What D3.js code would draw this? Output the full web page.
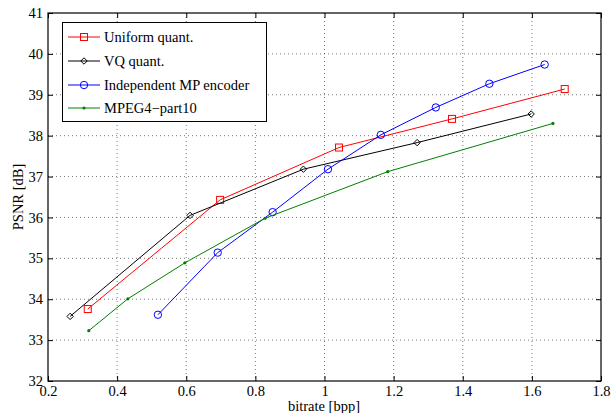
<!DOCTYPE html>
<html><head><meta charset="utf-8">
<script src="https://cdn.jsdelivr.net/npm/d3@7/dist/d3.min.js"></script>
<style>body{margin:0;background:#fff}svg{display:block}text{font-family:"Liberation Serif","Times New Roman",serif}</style>
</head><body>
<svg id="c" width="613" height="413"></svg>
<script>
const xTicks = [0.2,0.4,0.6,0.8,1,1.2,1.4,1.6,1.8];
const yTicks = [32,33,34,35,36,37,38,39,40,41];
const seriesNames = ["Uniform quant.","VQ quant.","Independent MP encoder","MPEG4\u2212part10"];
const uniformX = [0.315,0.698,1.042,1.369,1.695];
const uniformY = [33.76,36.43,37.71,38.41,39.14];
const vqX = [0.264,0.611,0.939,1.268,1.598];
const vqY = [33.58,36.05,37.18,37.83,38.53];
const mpX = [0.518,0.691,0.850,1.010,1.163,1.322,1.477,1.637];
const mpY = [33.62,35.14,36.13,37.18,38.02,38.69,39.27,39.74];
const mpegX = [0.318,0.431,0.596,0.828,1.183,1.661];
const mpegY = [33.23,34.01,34.89,35.98,37.12,38.30];

const svg = d3.select("#c");
const L=48,R=601,T=13,B=381;
const FS=14.5;
const x = d3.scaleLinear().domain([0.2,1.8]).range([L,R]);
const y = d3.scaleLinear().domain([32,41]).range([B,T]);

// grid
const g = svg.append("g");
g.selectAll(".gx").data(xTicks.slice(1,-1)).enter().append("line")
 .attr("x1",d=>x(d)).attr("x2",d=>x(d)).attr("y1",T).attr("y2",B)
 .attr("stroke","#555").attr("stroke-width",0.8).attr("stroke-dasharray","1,3");
g.selectAll(".gy").data(yTicks.slice(1,-1)).enter().append("line")
 .attr("y1",d=>y(d)).attr("y2",d=>y(d)).attr("x1",L).attr("x2",R)
 .attr("stroke","#555").attr("stroke-width",0.8).attr("stroke-dasharray","1,3");

// axes
const fmt = d=>String(d);
svg.append("g").attr("transform",`translate(0,${B})`)
 .call(d3.axisBottom(x).tickValues(xTicks).tickFormat(fmt).tickSizeInner(-5).tickSizeOuter(0).tickPadding(5))
 .call(a=>{a.select(".domain").remove();a.selectAll("text").attr("font-size",FS).attr("fill","#000");});
svg.append("g").attr("transform",`translate(0,${T})`)
 .call(d3.axisTop(x).tickValues(xTicks).tickFormat("").tickSizeInner(-5).tickSizeOuter(0))
 .call(a=>a.select(".domain").remove());
svg.append("g").attr("transform",`translate(${L},0)`)
 .call(d3.axisLeft(y).tickValues(yTicks).tickFormat(fmt).tickSizeInner(-5).tickSizeOuter(0).tickPadding(5))
 .call(a=>{a.select(".domain").remove();a.selectAll("text").attr("font-size",FS).attr("fill","#000");});
svg.append("g").attr("transform",`translate(${R},0)`)
 .call(d3.axisRight(y).tickValues(yTicks).tickFormat("").tickSizeInner(-5).tickSizeOuter(0))
 .call(a=>a.select(".domain").remove());
svg.selectAll(".tick line").attr("stroke","#000");
svg.append("rect").attr("x",L).attr("y",T).attr("width",R-L).attr("height",B-T)
 .attr("fill","none").attr("stroke","#000").attr("stroke-width",1.2);

// series
const series = [
 {name:seriesNames[0],xs:uniformX,ys:uniformY,color:"#ff0000",marker:"square"},
 {name:seriesNames[1],xs:vqX,ys:vqY,color:"#000000",marker:"diamond"},
 {name:seriesNames[2],xs:mpX,ys:mpY,color:"#0000ff",marker:"circle"},
 {name:seriesNames[3],xs:mpegX,ys:mpegY,color:"#008000",marker:"dot"}
];
const line = d3.line().x(d=>x(d[0])).y(d=>y(d[1]));
function drawMarker(sel,type,cx,cy,color){
 if(type==="square") sel.append("rect").attr("x",cx-3.5).attr("y",cy-3.5).attr("width",7).attr("height",7).attr("fill","none").attr("stroke",color).attr("stroke-width",1);
 else if(type==="diamond") sel.append("path").attr("d",`M${cx},${cy-3.2}L${cx+3.2},${cy}L${cx},${cy+3.2}L${cx-3.2},${cy}Z`).attr("fill","none").attr("stroke",color).attr("stroke-width",1);
 else if(type==="circle") sel.append("circle").attr("cx",cx).attr("cy",cy).attr("r",3.7).attr("fill","none").attr("stroke",color).attr("stroke-width",1);
 else sel.append("circle").attr("cx",cx).attr("cy",cy).attr("r",1.6).attr("fill",color);
}
series.forEach(s=>{
 const pts = s.xs.map((v,i)=>[v,s.ys[i]]);
 svg.append("path").datum(pts).attr("d",line).attr("fill","none").attr("stroke",s.color).attr("stroke-width",1);
 const mg = svg.append("g");
 pts.forEach(p=>drawMarker(mg,s.marker,x(p[0]),y(p[1]),s.color));
});

// legend
const lg = svg.append("g");
lg.append("rect").attr("x",62.5).attr("y",22.5).attr("width",204).attr("height",99).attr("fill","#fff").attr("stroke","#000").attr("stroke-width",1);
const ly=[37,61,85,108];
series.forEach((s,i)=>{
 lg.append("line").attr("x1",68).attr("x2",100).attr("y1",ly[i]).attr("y2",ly[i]).attr("stroke",s.color).attr("stroke-width",1);
 drawMarker(lg,s.marker,84,ly[i],s.color);
 lg.append("text").attr("x",104).attr("y",ly[i]+4.8).attr("font-size",FS).text(s.name);
});

// axis labels
svg.append("text").attr("x",324).attr("y",411).attr("text-anchor","middle").attr("font-size",FS).text("bitrate [bpp]");
svg.append("text").attr("transform",`translate(23,${(T+B)/2}) rotate(-90)`).attr("text-anchor","middle").attr("font-size",FS).text("PSNR [dB]");
</script>
</body></html>
